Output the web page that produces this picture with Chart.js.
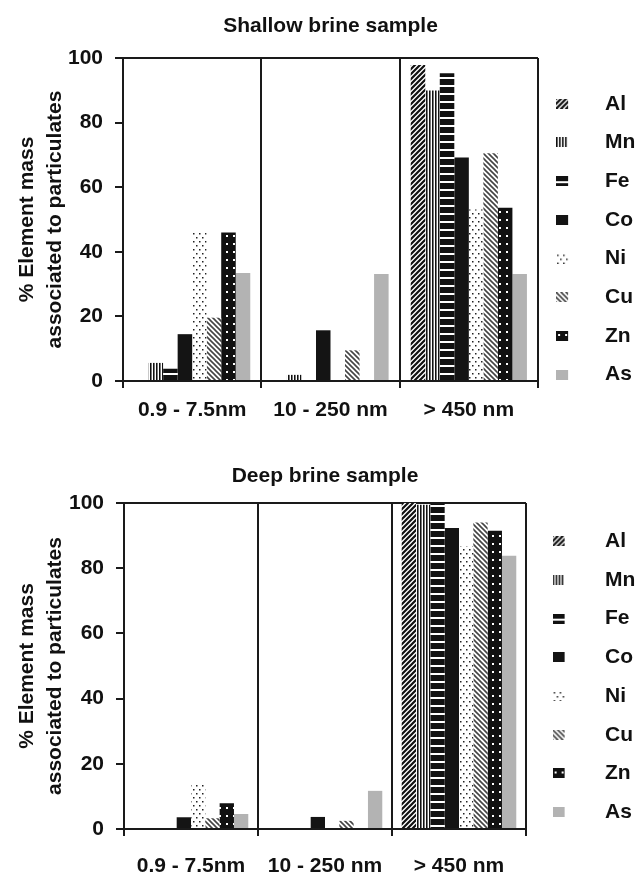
<!DOCTYPE html>
<html>
<head>
<meta charset="utf-8">
<script src="https://cdn.jsdelivr.net/npm/chart.js@4.4.0/dist/chart.umd.min.js"></script>
<style>
  html, body { margin: 0; padding: 0; background: #fff; }
  body { width: 641px; height: 872px; overflow: hidden; }
  canvas { display: block; }
</style>
</head>
<body>
<canvas id="shallowChart" width="641" height="436"></canvas>
<canvas id="deepChart" width="641" height="464"></canvas>
<script>
const categories = ["0.9 - 7.5nm", "10 - 250 nm", "> 450 nm"];
const elements = ["Al", "Mn", "Fe", "Co", "Ni", "Cu", "Zn", "As"];
const yTicks = [0, 20, 40, 60, 80, 100];

// % element mass bound to particulates, one row per element (Al..As),
// columns follow the three size fractions
const shallowData = [
  [0, 0, 97.8],
  [5.6, 1.9, 89.9],
  [3.8, 0, 95.3],
  [14.5, 15.7, 69.2],
  [46.4, 0, 53.1],
  [19.6, 9.5, 70.5],
  [46, 0, 53.6],
  [33.4, 33.1, 33.1],
];
const deepData = [
  [0, 0, 100],
  [0.3, 0.3, 99.5],
  [0, 0, 99.7],
  [3.6, 3.7, 92.3],
  [13.5, 0, 86.7],
  [3.3, 2.5, 94],
  [7.9, 0, 91.5],
  [4.6, 11.7, 83.8],
];

const FONT = "'Liberation Sans', Arial, sans-serif";
const INK = "#111";

function tile(w, h, paint) {
  const c = document.createElement("canvas");
  c.width = w;
  c.height = h;
  paint(c.getContext("2d"), w, h);
  return c;
}

// black & white fills, one per element
const fills = [
  tile(5, 5, (g) => { // Al  ////
    g.fillStyle = "#fff"; g.fillRect(0, 0, 5, 5);
    g.strokeStyle = "#111"; g.lineWidth = 2.2;
    g.beginPath();
    [0, 5, 10].forEach((k) => { g.moveTo(k + 1, -1); g.lineTo(-1, k + 1); });
    g.stroke();
  }),
  tile(3, 1, (g) => { // Mn  |||
    g.fillStyle = "#fff"; g.fillRect(0, 0, 3, 1);
    g.fillStyle = "#111"; g.fillRect(0, 0, 1, 1);
    g.fillStyle = "#777"; g.fillRect(1, 0, 1, 1);
  }),
  tile(1, 8, (g) => { // Fe  ===
    g.fillStyle = "#111"; g.fillRect(0, 0, 1, 8);
    g.fillStyle = "#fff"; g.fillRect(0, 5, 1, 2);
  }),
  "#141414", // Co
  tile(6, 8, (g) => { // Ni  dots
    g.fillStyle = "#fff"; g.fillRect(0, 0, 6, 8);
    g.fillStyle = "#222";
    g.fillRect(1, 1, 1.5, 1.5);
    g.fillRect(4, 5, 1.5, 1.5);
  }),
  tile(5, 5, (g) => { // Cu  \\\\
    g.fillStyle = "#fff"; g.fillRect(0, 0, 5, 5);
    g.strokeStyle = "#444"; g.lineWidth = 1.6;
    g.beginPath();
    [-5, 0, 5].forEach((k) => { g.moveTo(k - 1, -1); g.lineTo(k + 6, 6); });
    g.stroke();
  }),
  tile(7, 8, (g) => { // Zn  black with white dots
    g.fillStyle = "#111"; g.fillRect(0, 0, 7, 8);
    g.fillStyle = "#fff"; g.fillRect(2, 3, 2, 2);
  }),
  "#b3b3b3", // As
];

// legend swatch: 12x10 box drawn at the left edge of a wider transparent image
function swatch(fill, shift) {
  return tile(2 * shift + 12, 10, (g) => {
    g.fillStyle = typeof fill === "string" ? fill : g.createPattern(fill, "repeat");
    g.fillRect(0, 0, 12, 10);
  });
}

function buildChart(canvasId, titleText, values, lay) {
  const ctx = document.getElementById(canvasId).getContext("2d");
  const patterns = fills.map((f) => (typeof f === "string" ? f : ctx.createPattern(f, "repeat")));
  const swatches = fills.map((f) => swatch(f, lay.swatchShift));

  return new Chart(ctx, {
    type: "bar",
    data: {
      labels: categories,
      datasets: elements.map((name, i) => ({
        label: name,
        data: values[i],
        backgroundColor: patterns[i],
        borderWidth: 0,
        categoryPercentage: lay.catPct,
        barPercentage: 1.0,
      })),
    },
    options: {
      responsive: false,
      animation: false,
      layout: { padding: { left: 0, right: 0, top: 0, bottom: lay.padBottom } },
      plugins: {
        title: {
          display: true,
          text: titleText,
          fullSize: false,
          color: INK,
          font: { family: FONT, size: 21, weight: "bold" },
          padding: { top: lay.titleTop, bottom: lay.titleBottom },
        },
        legend: {
          position: "right",
          maxWidth: lay.legendWidth,
          title: {
            display: true,
            text: "",
            font: { size: 1 },
            padding: { top: lay.legendShift, bottom: 0 },
          },
          labels: {
            usePointStyle: true,
            pointStyleWidth: lay.boxSpan,
            padding: 17.7,
            color: INK,
            font: { family: FONT, size: 21, weight: "bold" },
            generateLabels(chart) {
              const items = Chart.defaults.plugins.legend.labels.generateLabels(chart);
              items.forEach((item, i) => { item.pointStyle = swatches[i]; });
              return items;
            },
          },
        },
        tooltip: { enabled: false },
      },
      scales: {
        x: {
          grid: { offset: true, color: "#1a1a1a", lineWidth: 2, tickLength: 7 },
          border: { color: "#1a1a1a", width: 2 },
          ticks: {
            color: INK,
            font: { family: FONT, size: 21, weight: "bold" },
            padding: lay.xPad,
            maxRotation: 0,
            autoSkip: false,
          },
        },
        y: {
          min: 0,
          max: 100,
          afterBuildTicks(scale) { scale.ticks = yTicks.map((v) => ({ value: v })); },
          afterFit(scale) { scale.width = lay.yWidth; },
          grid: {
            color: (c) => (c.tick && c.tick.value === 100 ? "#1a1a1a" : "rgba(0,0,0,0)"),
            tickColor: "#1a1a1a",
            lineWidth: 2,
            tickLength: 8,
          },
          border: { color: "#1a1a1a", width: 2 },
          ticks: {
            color: INK,
            font: { family: FONT, size: 21, weight: "bold" },
            padding: 12,
          },
          title: {
            display: true,
            text: ["% Element mass", "associated to particulates"],
            color: INK,
            font: { family: FONT, size: 21, weight: "bold", lineHeight: 1.3 },
            padding: { top: 14, bottom: 0 },
          },
        },
      },
    },
  });
}

buildChart("shallowChart", "Shallow brine sample", shallowData, {
  catPct: 0.84, yWidth: 123, titleTop: 13.4, titleBottom: 19.4, padBottom: 2.8, xPad: 10,
  legendWidth: 103, boxSpan: 38.8, swatchShift: 13, legendShift: 44,
});
buildChart("deepChart", "Deep brine sample", deepData, {
  catPct: 0.855, yWidth: 124, titleTop: 27.4, titleBottom: 14.4, padBottom: 2.8, xPad: 18,
  legendWidth: 115, boxSpan: 50.8, swatchShift: 10.6, legendShift: 19,
});
</script>
</body>
</html>
